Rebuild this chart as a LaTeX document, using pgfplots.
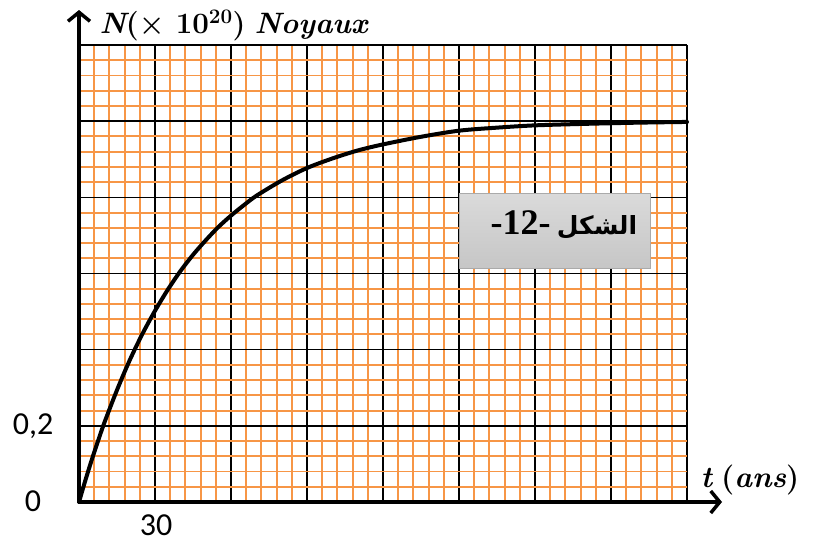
\documentclass[border=0pt]{standalone}
\usepackage{fontspec}
\usepackage{pgfplots}
\pgfplotsset{compat=1.18}
\usetikzlibrary{arrows.meta}
\TeXXeTstate=1
\newfontfamily\carlito{Carlito}
\newfontfamily\arabicfont[Script=Arabic]{DejaVu Sans}
\newfontfamily\timesfont{Liberation Serif}
\definecolor{gridorange}{HTML}{F79646}
\begin{document}
\begin{tikzpicture}
\path[use as bounding box] (-79pt,-40pt) rectangle (746pt,502pt);
\begin{axis}[
  scale only axis,
  width=608pt, height=457pt,
  xmin=0, xmax=240, ymin=0, ymax=1.2,
  axis lines=left,
  axis line style={line width=3.5pt, -{Straight Barb[length=9pt,width=22pt,line width=3.5pt]}, shorten >=-35pt},
  xtick={0,30,60,90,120,150,180,210,240},
  ytick={0,0.2,0.4,0.6,0.8,1.0,1.2},
  minor xtick={6,12,18,24,36,42,48,54,66,72,78,84,96,102,108,114,126,132,138,144,156,162,168,174,186,192,198,204,216,222,228,234},
  minor ytick={0.04,0.08,0.12,0.16,0.24,0.28,0.32,0.36,0.44,0.48,0.52,0.56,0.64,0.68,0.72,0.76,0.84,0.88,0.92,0.96,1.04,1.08,1.12,1.16},
  grid=both,
  major grid style={black, line width=1.4pt},
  minor grid style={gridorange, line width=1.9pt},
  major tick length=0pt, minor tick length=0pt,
  tick style={draw=none},
  xticklabels={{},30,{},{},{},{},{},{},{}},
  yticklabels={0,{0,2},{},{},{},{},{}},
  xticklabel style={anchor=base, yshift=-33pt, xshift=1pt, font=\carlito\fontsize{32}{32}\selectfont},
  yticklabel style={anchor=base, yshift=-9pt, xshift=-46pt, font=\carlito\fontsize{32}{32}\selectfont},
  xlabel={{\bfseries\itshape t} {\bfseries(\itshape ans\upshape)}},
  ylabel={{\bfseries\itshape N}{\bfseries(× 10\textsuperscript{20})} {\bfseries\itshape Noyaux}},
  every axis x label/.style={at={(rel axis cs:1,0)}, anchor=base west, xshift=10pt, yshift=15pt, font=\fontsize{30}{30}\selectfont},
  every axis y label/.style={at={(rel axis cs:0,1)}, anchor=base west, xshift=17pt, yshift=12pt, font=\fontsize{29.5}{30}\selectfont},
  clip=false,
]
\addplot[black, line width=4pt, smooth, line cap=round] coordinates {
  (0,0) (2.5,0.0565) (5,0.110) (7.5,0.160) (10,0.208) (15,0.294) (20,0.372)
  (25,0.441) (30,0.502) (35,0.557) (40,0.606) (45,0.649) (50,0.687) (55,0.722)
  (60,0.752) (65,0.779) (70,0.804) (80,0.844) (90,0.877) (100,0.902)
  (110,0.923) (120,0.939) (135,0.959) (150,0.975) (165,0.983) (180,0.989)
  (200,0.993) (220,0.996) (240,0.998)
};
\node[draw={rgb,255:red,170;green,170;blue,170}, line width=1pt,
      top color={rgb,255:red,218;green,218;blue,218},
      bottom color={rgb,255:red,198;green,198;blue,198},
      minimum width=191pt, minimum height=74pt, inner sep=0pt]
      at (rel axis cs:0.7837,0.593) {};
\node[inner sep=0pt, anchor=base] at (rel axis cs:0.7265,0.585)
  {\timesfont\bfseries\fontsize{36}{36}\selectfont -12-};
\node[inner sep=0pt, anchor=base] at (rel axis cs:0.852,0.585)
  {\arabicfont\bfseries\fontsize{25}{26}\selectfont\beginR الشكل\endR};
\end{axis}
\end{tikzpicture}
\end{document}
